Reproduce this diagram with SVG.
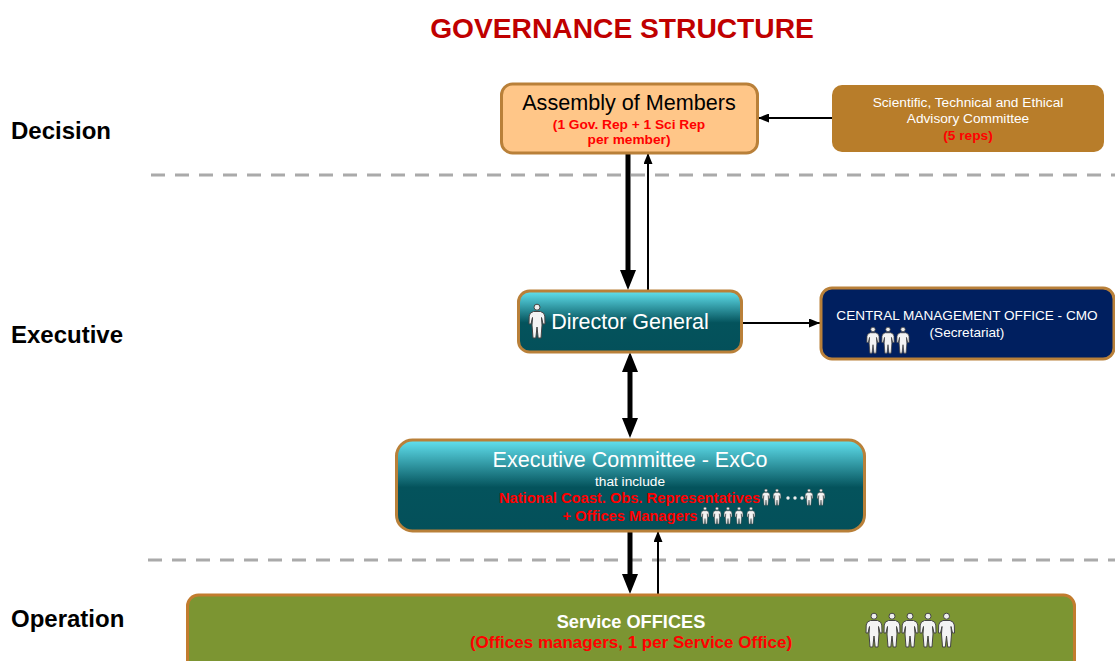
<svg xmlns="http://www.w3.org/2000/svg" width="1115" height="661" viewBox="0 0 1115 661">
<style>
text{font-family:"Liberation Sans",Arial,sans-serif;text-anchor:middle}
.lane{font-size:24px;font-weight:bold;fill:#000;text-anchor:start}
.w{fill:#fff}
.r{fill:#f00;font-weight:bold}
.box{stroke:#b98039;stroke-width:3}
.dash{stroke:#aaa;stroke-width:3;stroke-dasharray:14 10;fill:none}
.thick{stroke:#000;stroke-width:5;fill:none}
.thin{stroke:#000;stroke-width:2;fill:none}
</style>
<defs>
<linearGradient id="teal" x1="0" y1="0" x2="0" y2="1">
<stop offset="0" stop-color="#62e2f0"/><stop offset="0.52" stop-color="#04535c"/><stop offset="1" stop-color="#04505a"/>
</linearGradient>
<marker id="big" markerUnits="userSpaceOnUse" markerWidth="20" markerHeight="16" refX="12" refY="8" orient="auto-start-reverse" viewBox="0 0 20 16"><path d="M0 0L20 8L0 16z" fill="#000"/></marker>
<marker id="small" markerUnits="userSpaceOnUse" markerWidth="11" markerHeight="9" refX="11" refY="4.500" orient="auto" viewBox="0 0 11 9"><path d="M0 0L11 4.500L0 9z" fill="#000"/></marker>
<g id="person">
<circle cx="0" cy="3.200" r="3" fill="#eee" stroke="#444" stroke-width="1"/>
<path d="M-3.500 7.500H3.500Q7.500 8.500 7.800 12L8 20H6L4.500 13.500L5 21L4 34H1.200L0 23L-1.200 34H-4L-5 21L-4.500 13.500L-6 20H-8L-7.800 12Q-7.500 8.500-3.500 7.500z" fill="#f4f4f4" stroke="#444" stroke-width="1"/>
</g>
</defs>
<rect width="1115" height="661" fill="#fff"/>
<text x="622" y="38" font-size="28.200" font-weight="bold" fill="#c00000">GOVERNANCE STRUCTURE</text>
<text class="lane" x="11" y="139">Decision</text>
<text class="lane" x="11" y="343">Executive</text>
<text class="lane" x="11" y="627">Operation</text>
<line class="dash" x1="151" y1="175" x2="1115" y2="175"/>
<line class="dash" x1="148" y1="560" x2="1115" y2="560"/>
<g id="connectors">
<line class="thick" x1="628" y1="153" x2="628" y2="282" marker-end="url(#big)"/>
<line class="thin" x1="648" y1="291" x2="648" y2="153" marker-end="url(#small)"/>
<line class="thin" x1="832" y1="118" x2="758" y2="118" marker-end="url(#small)"/>
<line class="thin" x1="742" y1="323" x2="820" y2="323" marker-end="url(#small)"/>
<line class="thick" x1="630" y1="360" x2="630" y2="430" marker-start="url(#big)" marker-end="url(#big)"/>
<line class="thick" x1="630" y1="531" x2="630" y2="586" marker-end="url(#big)"/>
<line class="thin" x1="658" y1="595" x2="658" y2="531" marker-end="url(#small)"/>
</g>
<g id="assembly">
<rect class="box" x="501.500" y="84" width="256" height="69" rx="11" fill="#ffc688"/>
<text x="629" y="110" font-size="21.600">Assembly of Members</text>
<text class="r" x="629" y="129" font-size="13.700">(1 Gov. Rep + 1 Sci Rep</text>
<text class="r" x="629" y="144" font-size="13.700">per member)</text>
</g>
<g id="advisory">
<rect x="832" y="85" width="272" height="67" rx="10" fill="#b87d2a"/>
<text class="w" x="968" y="107" font-size="13.700">Scientific, Technical and Ethical</text>
<text class="w" x="968" y="123" font-size="13.700">Advisory Committee</text>
<text class="r" x="968" y="140" font-size="13.700">(5 reps)</text>
</g>
<g id="director">
<rect class="box" x="518.500" y="291" width="223" height="61" rx="11" fill="url(#teal)"/>
<use href="#person" transform="translate(537 304)"/>
<text class="w" x="630" y="329" font-size="21.500">Director General</text>
</g>
<g id="cmo">
<rect class="box" x="821" y="288" width="293" height="71" rx="11" fill="#001f5f"/>
<text class="w" x="967" y="320" font-size="13.600">CENTRAL MANAGEMENT OFFICE - CMO</text>
<text class="w" x="967" y="337" font-size="13.600">(Secretariat)</text>
<use href="#person" transform="translate(873 327) scale(.77)"/>
<use href="#person" transform="translate(888 327) scale(.77)"/>
<use href="#person" transform="translate(903 327) scale(.77)"/>
</g>
<g id="exco">
<rect class="box" x="396.500" y="440" width="468" height="91" rx="16" fill="url(#teal)"/>
<text class="w" x="630" y="467" font-size="21.500">Executive Committee - ExCo</text>
<text class="w" x="630" y="486" font-size="13.700">that include</text>
<text class="r" x="629.500" y="503" font-size="14.700">National Coast. Obs. Representatives</text>
<text class="r" x="630" y="521" font-size="14.700">+ Offices Managers</text>
<use href="#person" transform="translate(766 489) scale(.48)"/>
<use href="#person" transform="translate(777 489) scale(.48)"/>
<circle cx="788" cy="498" r="1.700" fill="#eee"/><circle cx="795" cy="498" r="1.700" fill="#eee"/><circle cx="802" cy="498" r="1.700" fill="#eee"/>
<use href="#person" transform="translate(809 489) scale(.48)"/>
<use href="#person" transform="translate(821 489) scale(.48)"/>
<use href="#person" transform="translate(705 507) scale(.5)"/>
<use href="#person" transform="translate(717 507) scale(.5)"/>
<use href="#person" transform="translate(728 507) scale(.5)"/>
<use href="#person" transform="translate(739 507) scale(.5)"/>
<use href="#person" transform="translate(751 507) scale(.5)"/>
</g>
<g id="offices">
<rect x="187.500" y="595" width="887" height="80" rx="11" fill="#7c9532" stroke="#c27c2e" stroke-width="3"/>
<text class="w" x="631" y="628" font-size="18.200" font-weight="bold">Service OFFICES</text>
<text class="r" x="631" y="648" font-size="17">(Offices managers, 1 per Service Office)</text>
<use href="#person" transform="translate(874 613)"/>
<use href="#person" transform="translate(892 613)"/>
<use href="#person" transform="translate(910 613)"/>
<use href="#person" transform="translate(928 613)"/>
<use href="#person" transform="translate(946.500 613)"/>
</g>
</svg>
